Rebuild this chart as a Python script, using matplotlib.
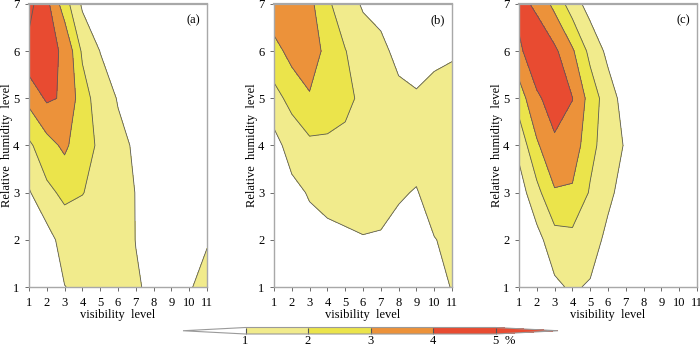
import numpy as np
import matplotlib
matplotlib.use("Agg")
import matplotlib.pyplot as plt
from matplotlib.colors import ListedColormap

plt.rcParams['font.family'] = ['Liberation Serif', 'DejaVu Serif']

vis_levels = np.arange(1, 12)          # x: visibility level 1..11
rh_levels = np.arange(1, 8)            # y: relative humidity level 1..7
levels = [1, 2, 3, 4, 5]
panel_labels = ['(a)', '(b)', '(c)']

# frequency (%) on grid, rows = RH level 1..7, columns = visibility level 1..11
freq_a = [
    [0.3, 0.5, 0.98, 1.2, 1.2, 1.15, 1.05, 0.9, 0.85, 0.9, 1.4],
    [0.6, 0.585, 1.43, 1.45, 1.35, 1.25, 0.99, 0.6, 0.5, 0.5, 0.91],
    [0.909, 1.77, 2.2, 2.03, 1.7, 1.35, 0.98, 0.6, 0.4, 0.3, 0.3],
    [1.82, 2.62, 3.2, 2.33, 1.86, 1.2, 0.9, 0.5, 0.3, 0.3, 0.3],
    [3.29, 4.15, 3.88, 2.46, 1.46, 0.95, 0.5, 0.3, 0.2, 0.2, 0.2],
    [4.77, 4.1, 3.95, 1.83, 0.98, 0.5, 0.3, 0.2, 0.2, 0.2, 0.2],
    [5.28, 4.28, 2.45, 0.84, 0.5, 0.3, 0.2, 0.2, 0.2, 0.2, 0.2],
]
freq_b = [
    [0.1, 0.2, 0.3, 0.4, 0.5, 0.6, 0.6, 0.6, 0.5, 0.6, 1.05],
    [0.2, 0.3, 0.62, 0.83, 0.9, 0.963, 0.947, 0.82, 0.6, 0.98, 1.12],
    [0.3, 0.7, 1.09, 1.2, 1.25, 1.3, 1.2, 1.06, 0.963, 1.25, 1.4],
    [0.606, 1.46, 1.77, 1.77, 1.7, 1.5, 1.4, 1.3, 1.25, 1.3, 1.4],
    [1.7, 2.27, 2.93, 2.7, 2.3, 1.74, 1.5, 1.3, 1.075, 1.265, 1.35],
    [2.6, 3.37, 3.4, 2.78, 2.02, 1.7, 1.3, 0.675, 0.7, 0.8, 0.9],
    [3.8, 3.6, 3.3, 2.1, 1.67, 0.85, 0.6, 0.5, 0.4, 0.5, 0.7],
]
freq_c = [
    [0.1, 0.3, 0.8, 1.15, 0.87, 0.3, 0.2, 0.1, 0.1, 0.1, 0.1],
    [0.2, 0.655, 1.6, 1.7, 1.6, 0.66, 0.3, 0.2, 0.1, 0.1, 0.1],
    [0.5, 1.7, 2.9, 2.85, 1.9, 1.3, 0.45, 0.3, 0.2, 0.1, 0.1],
    [1.29, 2.85, 3.85, 3.6, 2.3, 1.49, 0.91, 0.4, 0.2, 0.1, 0.1],
    [2.47, 3.85, 4.4, 4.02, 2.6, 1.45, 0.6, 0.3, 0.2, 0.1, 0.1],
    [3.8, 4.7, 4.21, 3.14, 1.71, 0.76, 0.4, 0.2, 0.1, 0.1, 0.1],
    [4.34, 3.79, 2.72, 1.48, 0.59, 0.3, 0.2, 0.1, 0.1, 0.1, 0.1],
]
panels = [freq_a, freq_b, freq_c]

fill_colors = ['#F1EB8C', '#EBE44B', '#EC923A', '#E84B31']
cmap = ListedColormap(fill_colors)
cmap.set_under('white')
cmap.set_over('#E84B31')

fig = plt.figure(figsize=(7.0, 3.47), dpi=100)
lefts = [29 / 700, 274 / 700, 519 / 700]
W = 178 / 700
B = 1 - 287 / 347
H = 283 / 347

X, Y = np.meshgrid(vis_levels, rh_levels)
cs_ref = None
for i, (data, lab) in enumerate(zip(panels, panel_labels)):
    ax = fig.add_axes([lefts[i], B, W, H])
    Z = np.array(data)
    cs = ax.contourf(X, Y, Z, levels=levels, cmap=cmap, extend='both')
    ax.contour(X, Y, Z, levels=levels, colors='#5a5a5a', linewidths=0.6)
    if cs_ref is None:
        cs_ref = cs
    ax.set_xlim(1, 11)
    ax.set_ylim(1, 7)
    ax.set_xticks(vis_levels)
    ax.set_yticks(rh_levels)
    ax.tick_params(labelsize=9, length=3, width=0.6, color='#555555')
    ax.tick_params(axis='x', pad=4.5)
    ax.tick_params(axis='y', pad=4.0)
    for s in ax.spines.values():
        s.set_color('#a8a8a8')
        s.set_linewidth(1.0)
    ax.spines['top'].set_linewidth(1.6)
    ax.set_xlabel('visibility  level', fontsize=9, labelpad=0)
    ax.set_ylabel('Relative  humidity  level', fontsize=9, labelpad=0)
    ax.text(0.96, 0.965, lab, transform=ax.transAxes, ha='right', va='top', fontsize=9)

cax = fig.add_axes([183 / 700, 1 - 334.0 / 347, 375 / 700, 6.5 / 347])
cb = fig.colorbar(cs_ref, cax=cax, orientation='horizontal', extendfrac=0.25,
                  drawedges=True, ticks=levels)
cb.outline.set_edgecolor('#9a9a9a')
cb.outline.set_linewidth(0.8)
cb.dividers.set_color('#555555')
cb.dividers.set_linewidth(0.8)
cax.tick_params(length=0, labelsize=9, pad=0.5)
fig.text(510 / 700, 1 - 341.5 / 347, '%', fontsize=9, ha='center', va='center')

fig.savefig('out.png', dpi=100)
